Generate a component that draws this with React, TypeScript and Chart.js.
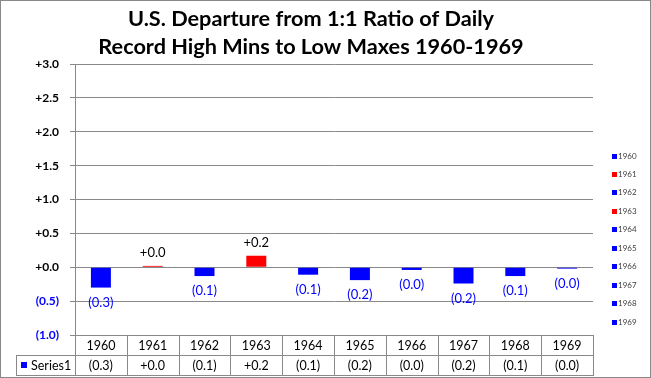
import React, { useEffect, useRef } from "react";
import { Chart, registerables } from "chart.js";

Chart.register(...registerables);

const categories = ["1960", "1961", "1962", "1963", "1964", "1965", "1966", "1967", "1968", "1969"];
const values = [-0.3, 0.02, -0.13, 0.17, -0.11, -0.19, -0.04, -0.24, -0.13, -0.02];
const titleLines = ["U.S. Departure from 1:1 Ratio of Daily", "Record High Mins to Low Maxes 1960-1969"];
const seriesName = "Series1";

const POS = "#FF0000";
const NEG = "#0000FF";
const GRID = "#898989";
const FONT = "Lato, 'Open Sans', sans-serif";

function fmt(v: number): string {
  const r = Math.round(Math.abs(v) * 10) / 10;
  return v >= 0 ? "+" + r.toFixed(1) : "(" + r.toFixed(1) + ")";
}

const overlay = {
  id: "overlay",
  afterDraw(chart: any) {
    const ctx = chart.ctx as CanvasRenderingContext2D;
    const xs = chart.scales.x;
    const area = chart.chartArea;
    const W = chart.width;
    const H = chart.height;
    ctx.save();
    // outer border
    ctx.strokeStyle = GRID;
    ctx.lineWidth = 1;
    ctx.strokeRect(0.5, 0.5, W - 1, H - 1);
    // title
    ctx.fillStyle = "#000";
    ctx.font = "bold 21.7px " + FONT;
    ctx.textAlign = "center";
    ctx.textBaseline = "middle";
    ctx.fillText(titleLines[0], 311, 19);
    ctx.fillText(titleLines[1], 311, 47);
    // data labels
    ctx.font = "13px " + FONT;
    const meta = chart.getDatasetMeta(0);
    meta.data.forEach((bar: any, i: number) => {
      const v = values[i];
      if (v >= 0) {
        ctx.fillStyle = "#000";
        ctx.fillText(fmt(v), bar.x, bar.y - 13);
      } else {
        ctx.fillStyle = NEG;
        ctx.fillText(fmt(v), bar.x, bar.y + 15);
      }
    });
    // data table
    const top = area.bottom;
    const mid = top + 20;
    const bot = top + 40;
    const left = area.left;
    const right = area.right;
    const step = (right - left) / categories.length;
    ctx.strokeStyle = GRID;
    ctx.beginPath();
    ctx.moveTo(left + 0.5, top);
    ctx.lineTo(left + 0.5, bot);
    for (let i = 1; i <= categories.length; i++) {
      const x = Math.round(left + step * i) + 0.5;
      ctx.moveTo(x, top);
      ctx.lineTo(x, bot);
    }
    ctx.moveTo(16.5, mid);
    ctx.lineTo(16.5, bot);
    ctx.moveTo(16, mid + 0.5);
    ctx.lineTo(right + 1, mid + 0.5);
    ctx.moveTo(16, bot + 0.5);
    ctx.lineTo(right + 1, bot + 0.5);
    ctx.stroke();
    ctx.fillStyle = "#000";
    ctx.font = "12.5px " + FONT;
    categories.forEach((c, i) => {
      const cx = xs.getPixelForValue(i);
      ctx.fillText(c, cx, (top + mid) / 2 + 1);
      ctx.fillText(fmt(values[i]), cx, (mid + bot) / 2 + 1);
    });
    ctx.fillStyle = NEG;
    ctx.fillRect(21, mid + 7, 6, 6);
    ctx.fillStyle = "#000";
    ctx.textAlign = "left";
    ctx.fillText(seriesName, 31, (mid + bot) / 2 + 1);
    // right legend
    ctx.font = "8px " + FONT;
    categories.forEach((c, i) => {
      const y = 155.5 + i * 18.45;
      ctx.fillStyle = values[i] >= 0 ? POS : NEG;
      ctx.fillRect(612, Math.round(y) - 2, 5, 5);
      ctx.fillStyle = "#404040";
      ctx.fillText(c, 618, y + 0.5);
    });
    ctx.restore();
  },
};

export default function App() {
  const ref = useRef<HTMLCanvasElement | null>(null);
  useEffect(() => {
    if (!ref.current) return;
    const chart = new Chart(ref.current, {
      type: "bar",
      data: {
        labels: categories,
        datasets: [
          {
            label: seriesName,
            data: values,
            backgroundColor: values.map((v) => (v >= 0 ? POS : NEG)),
            barPercentage: 0.386,
            categoryPercentage: 1,
          },
        ],
      },
      options: {
        responsive: false,
        animation: false,
        layout: { padding: { left: 0, right: 58, top: 64, bottom: 43 } },
        plugins: { legend: { display: false }, title: { display: false }, tooltip: { enabled: false } },
        scales: {
          x: { display: false },
          y: {
            min: -1,
            max: 3,
            afterFit: (s: any) => {
              s.width = 75;
            },
            ticks: {
              stepSize: 0.5,
              padding: 11,
              font: { family: FONT, size: 12, weight: "bold" },
              color: (c: any) => (c.tick && c.tick.value < 0 ? NEG : "#000"),
              callback: (v: any) => fmt(Number(v)),
            },
            grid: { color: GRID, tickLength: 5, lineWidth: 1 },
            border: { color: GRID },
          },
        },
      },
      plugins: [overlay],
    });
    return () => chart.destroy();
  }, []);
  return (
    <div style={{ position: "absolute", left: 0, top: 0, width: 651, height: 378, background: "#fff" }}>
      <canvas ref={ref} width={651} height={378} style={{ display: "block" }} />
    </div>
  );
}
